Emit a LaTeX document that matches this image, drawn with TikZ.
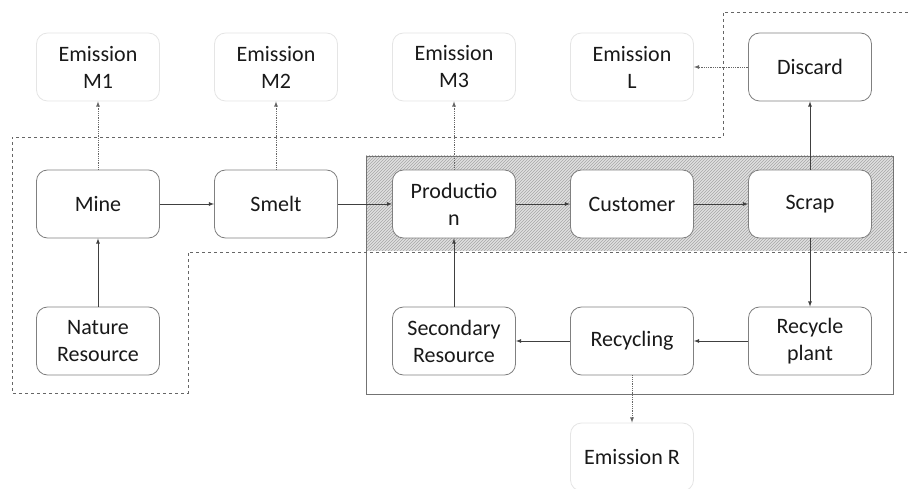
\documentclass[tikz,border=0pt]{standalone}
\usepackage{fontspec}
\setmainfont{Carlito}
\usetikzlibrary{patterns}

\begin{document}
\begin{tikzpicture}[x=1pt, y=-1pt,
		block/.style={draw=black!50, fill=white, line width=0.8pt, rounded corners=11pt, minimum width=123pt, minimum height=68pt, inner sep=0pt, align=center, text=black!90, font=\fontsize{22}{27}\selectfont},
		emission/.style={block, draw=black!10},
		flow/.style={draw=black!75, line width=0.8pt, -latex},
		leak/.style={draw=black!60, line width=0.8pt, densely dotted, -latex},
		border/.style={draw=black!60, line width=0.8pt, dashed}]

		\useasboundingbox (0, 0) rectangle (908, 489);

		\pgfmathsetmacro{\colone}{98}
		\pgfmathsetmacro{\colstep}{178}
		\pgfmathsetmacro{\rowone}{67}
		\pgfmathsetmacro{\rowstep}{137}

		% draw shaded loop area
		\fill[black!12] (366, 156) rectangle (893, 251);
		\fill[pattern=north east lines, pattern color=black!35] (366, 156) rectangle (893, 251);
		\draw[black!55, line width=0.8pt] (366, 156) rectangle (893, 394);

		% draw dashed boundary
		\draw[border]
			(908, 12) --
			(723, 12) --
			(723, 137) --
			(12, 137) --
			(12, 393) --
			(188, 393) --
			(188, 252) --
			(908, 252);

		% draw emissions
		\node[emission] (em1) at (\colone, \rowone) {Emission\\M1};
		\node[emission] (em2) at (\colone + \colstep, \rowone) {Emission\\M2};
		\node[emission] (em3) at (\colone + 2 * \colstep, \rowone) {Emission\\M3};
		\node[emission] (eml) at (\colone + 3 * \colstep, \rowone) {Emission\\L};
		\node[emission] (emr) at (\colone + 3 * \colstep, 457) {Emission R};

		% draw main chain
		\node[block] (discard) at (\colone + 4 * \colstep, \rowone) {Discard};
		\node[block] (mine) at (\colone, \rowone + \rowstep) {Mine};
		\node[block] (smelt) at (\colone + \colstep, \rowone + \rowstep) {Smelt};
		\node[block] (production) at (\colone + 2 * \colstep, \rowone + \rowstep) {Productio\\n};
		\node[block] (customer) at (\colone + 3 * \colstep, \rowone + \rowstep) {Customer};
		\node[block] (scrap) at (\colone + 4 * \colstep, \rowone + \rowstep) {Scrap};

		% draw resources and recycling
		\node[block] (nature) at (\colone, \rowone + 2 * \rowstep) {Nature\\Resource};
		\node[block] (secondary) at (\colone + 2 * \colstep, \rowone + 2 * \rowstep) {Secondary\\Resource};
		\node[block] (recycling) at (\colone + 3 * \colstep, \rowone + 2 * \rowstep) {Recycling};
		\node[block] (plant) at (\colone + 4 * \colstep, \rowone + 2 * \rowstep) {Recycle\\plant};

		% draw material flows
		\foreach \from/\to in {mine/smelt, smelt/production, production/customer, customer/scrap, plant/recycling, recycling/secondary}
		{
			\draw[flow] (\from) -- (\to);
		}
		\draw[flow] (nature) -- (mine); % arrow up
		\draw[flow] (secondary) -- (production); % arrow up
		\draw[flow] (scrap) -- (discard); % arrow up
		\draw[flow] (scrap) -- (plant); % arrow down

		% draw emission flows
		\foreach \from/\to in {mine/em1, smelt/em2, production/em3, discard/eml, recycling/emr}
		{
			\draw[leak] (\from) -- (\to);
		}

	\end{tikzpicture}
\end{document}
